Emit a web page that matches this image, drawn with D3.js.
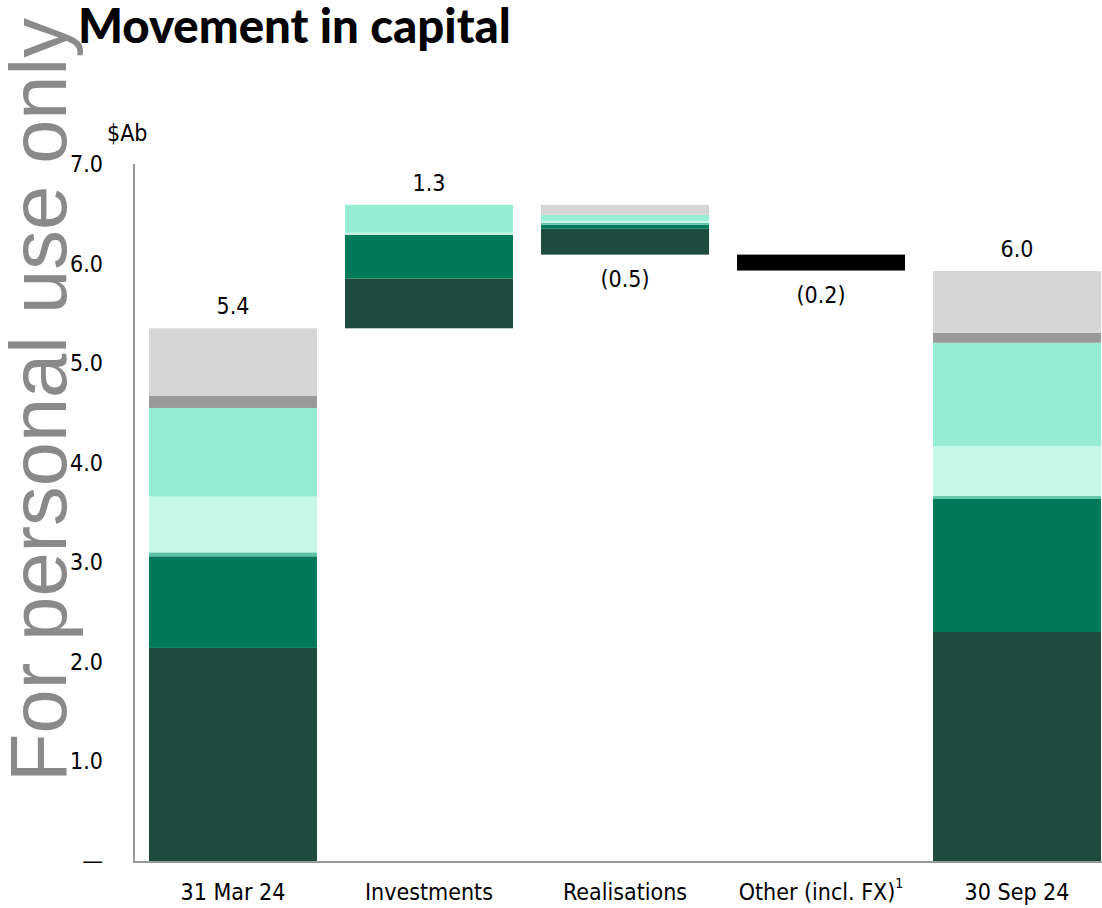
<!DOCTYPE html>
<html>
<head>
<meta charset="utf-8">
<script src="https://cdn.jsdelivr.net/npm/d3@7"></script>
<style>
  html, body { margin: 0; padding: 0; background: #ffffff; }
  svg { display: block; }
  .lbl { font-family: "Liberation Sans Narrow", "DejaVu Sans Condensed", "Roboto", sans-serif; fill: #000; }
</style>
</head>
<body>
<svg id="chart" width="1102" height="908"></svg>
<script>
// ---------------- data ----------------
const categories = ["31 Mar 24", "Investments", "Realisations", "Other (incl. FX)", "30 Sep 24"];
const isTotal = [true, false, false, false, true];
// series values per category (bottom to top of stack)
const segDark      = [2.14, 0.50, -0.26, 0, 2.30];
const segGreen     = [0.92, 0.44, -0.04, 0, 1.34];
const segTeal      = [0.04, 0.00, -0.02, 0, 0.025];
const segLightMint = [0.56, 0.02, -0.02, 0, 0.50];
const segMint      = [0.89, 0.28, -0.06, 0, 1.04];
const segMidGray   = [0.12, 0.00, 0.00, 0, 0.10];
const segLightGray = [0.68, 0.00, -0.10, 0, 0.62];
const segOther     = [0, 0, 0, -0.16, 0];
const barLabels = ["5.4", "1.3", "(0.5)", "(0.2)", "6.0"];
const yTickValues = [0, 1, 2, 3, 4, 5, 6, 7];
const yTickLabels = ["\u2014", "1.0", "2.0", "3.0", "4.0", "5.0", "6.0", "7.0"];
const unitLabel = "$Ab";
const titleText = "Movement in capital";
const watermark = "For personal use only";

const series = [
  { values: segDark,      color: "#1e4b3e" },
  { values: segGreen,     color: "#00785a" },
  { values: segTeal,      color: "#5cc3a6" },
  { values: segLightMint, color: "#c7f8e8" },
  { values: segMint,      color: "#95eed3" },
  { values: segMidGray,   color: "#999999" },
  { values: segLightGray, color: "#d6d6d6" },
  { values: segOther,     color: "#000000" }
];

// ---------------- layout ----------------
const svg = d3.select("#chart");
const x = d3.scaleBand().domain(categories).range([135, 1115]).paddingInner(0.143).paddingOuter(0.0714);
const y = d3.scaleLinear().domain([0, 7]).range([861, 164]);

// watermark
const wm = svg.append("text")
  .attr("transform", "translate(66,782) rotate(-90)")
  .attr("font-family", "Liberation Sans, Arial, sans-serif")
  .attr("font-size", 80)
  .attr("fill", "#8a8a8a")
  .text(watermark);
const wmLen = wm.node().getComputedTextLength();
wm.attr("font-size", 80 * 764 / wmLen);

// compute waterfall stacks
const rects = [];
const tops = [];
let level = 0;
categories.forEach((c, i) => {
  const vals = series.map(s => s.values[i]);
  const sum = d3.sum(vals);
  let base;
  if (isTotal[i]) { base = 0; level = sum; }
  else if (sum >= 0) { base = level; level = level + sum; }
  else { base = level + sum; }
  let cur = base;
  series.forEach((s, k) => {
    const v = Math.abs(s.values[i]);
    if (v > 0) {
      rects.push({ cat: c, y0: cur, y1: cur + v, color: s.color });
      cur += v;
    }
  });
  if (!isTotal[i] && sum < 0) level = base;
  tops.push({ cat: c, lo: base, hi: cur, neg: sum < 0, label: barLabels[i] });
});

svg.append("g").selectAll("rect").data(rects).join("rect")
  .attr("x", d => x(d.cat))
  .attr("width", x.bandwidth())
  .attr("y", d => y(d.y1))
  .attr("height", d => y(d.y0) - y(d.y1))
  .attr("fill", d => d.color);

// value labels
svg.append("g").selectAll("text").data(tops).join("text")
  .attr("class", "lbl")
  .attr("x", d => x(d.cat) + x.bandwidth() / 2)
  .attr("y", d => d.neg ? y(d.lo) + 24 : y(d.hi) - 22)
  .attr("text-anchor", "middle")
  .attr("dominant-baseline", "central")
  .attr("font-size", 23)
  .text(d => d.label);

// axes lines
svg.append("line").attr("x1", 134).attr("x2", 134).attr("y1", y(7)).attr("y2", 862)
  .attr("stroke", "#999").attr("stroke-width", 2);
svg.append("line").attr("x1", 133).attr("x2", 1102).attr("y1", 862).attr("y2", 862)
  .attr("stroke", "#999").attr("stroke-width", 2);

// y tick labels
svg.append("g").selectAll("text").data(yTickValues).join("text")
  .attr("class", "lbl")
  .attr("x", 103)
  .attr("y", d => y(d))
  .attr("text-anchor", "end")
  .attr("dominant-baseline", "central")
  .attr("font-size", 23)
  .text((d, i) => yTickLabels[i]);

svg.append("text").attr("class", "lbl")
  .attr("x", 107).attr("y", 133)
  .attr("dominant-baseline", "central")
  .attr("font-size", 23)
  .text(unitLabel);

// x labels
const xl = svg.append("g").selectAll("text").data(categories).join("text")
  .attr("class", "lbl")
  .attr("x", d => x(d) + x.bandwidth() / 2)
  .attr("y", 892)
  .attr("text-anchor", "middle")
  .attr("dominant-baseline", "central")
  .attr("font-size", 23);
xl.each(function(d) {
  const t = d3.select(this);
  t.append("tspan").text(d);
  if (d.startsWith("Other")) {
    t.append("tspan").attr("font-size", 14).attr("dy", -9).text("1");
  }
});

// title
const title = svg.append("text")
  .attr("x", 78).attr("y", 43)
  .attr("font-family", "Lato, 'Open Sans', sans-serif")
  .attr("font-weight", 900)
  .attr("font-size", 40)
  .attr("fill", "#000")
  .text(titleText);
const tl = title.node().getComputedTextLength();
title.attr("font-size", 40 * 433 / tl);
</script>
</body>
</html>
